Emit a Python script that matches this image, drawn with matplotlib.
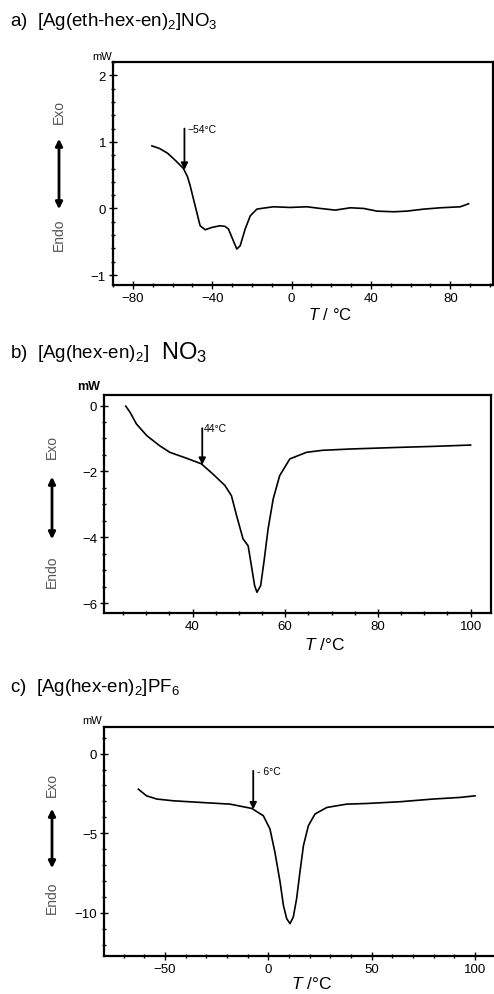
import matplotlib
matplotlib.use('Agg')
from matplotlib import pyplot as plt
from matplotlib.ticker import MultipleLocator

plt.rcParams['font.family'] = ['Liberation Sans', 'DejaVu Sans']
plt.rcParams['mathtext.fontset'] = 'custom'
plt.rcParams['mathtext.rm'] = 'Liberation Sans'
plt.rcParams['mathtext.it'] = 'Liberation Sans:italic'

# a) [Ag(eth-hex-en)2]NO3
a_T = [-70.4, -66.5, -62.5, -58.5, -54.5, -52.5, -51.1, -48.6, -46.1, -43.5, -40.2, -36.0,
       -33.5, -31.8, -29.3, -27.6, -25.9, -23.4, -20.8, -17.5, -14.1, -9.1,
       -0.7, 7.7, 14.5, 22.0, 29.6, 36.3, 43.0, 51.4, 58.2, 66.6, 75.0, 85.0, 89.2]
a_mW = [0.94, 0.9, 0.83, 0.72, 0.6, 0.48, 0.34, 0.04, -0.26, -0.32, -0.285, -0.26,
        -0.27, -0.31, -0.49, -0.61, -0.56, -0.31, -0.11, -0.01, 0.005, 0.025,
        0.015, 0.025, 0.0, -0.025, 0.01, 0.0, -0.04, -0.05, -0.04, -0.01, 0.01, 0.025, 0.07]

# b) [Ag(hex-en)2]NO3
b_T = [25.6, 26.5, 27.9, 30.1, 32.9, 35.1, 38.7, 41.9, 44.4, 47.0, 48.4, 49.5, 50.9, 52.0,
       52.7, 53.4, 53.9, 54.7, 55.4, 56.3, 57.4, 58.8, 61.0, 64.6, 68.0, 74.0, 84.7,
       92.0, 100.0]
b_mW = [-0.02, -0.2, -0.56, -0.91, -1.22, -1.42, -1.6, -1.77, -2.08, -2.43, -2.74, -3.34,
        -4.05, -4.26, -4.86, -5.47, -5.67, -5.47, -4.76, -3.75, -2.84, -2.13, -1.62, -1.42,
        -1.36, -1.32, -1.27, -1.24, -1.2]

# c) [Ag(hex-en)2]PF6
c_T = [-62.9, -58.9, -54.0, -46.0, -33.1, -18.5, -8.0, -2.4, 0.8, 3.2, 5.7, 7.3, 8.9,
       10.5, 12.1, 13.7, 15.3, 17.0, 19.4, 22.6, 28.3, 37.9, 47.6, 63.7, 79.8,
       92.7, 100.0]
c_mW = [-2.23, -2.65, -2.85, -2.96, -3.06, -3.17, -3.44, -3.9, -4.73, -6.19, -8.06, -9.52,
        -10.36, -10.67, -10.25, -9.1, -7.44, -5.77, -4.52, -3.79, -3.38, -3.17, -3.13,
        -3.02, -2.85, -2.75, -2.65]

W, H = 494, 995
fig = plt.figure(figsize=(W / 100, H / 100), dpi=100)


def fx(x):
    return x / W


def fy(y):
    return 1 - y / H


def make_axes(l, t, r, b):
    return fig.add_axes([fx(l), fy(b), fx(r) - fx(l), fy(t) - fy(b)])


def style(ax, xmaj, xmin, ymaj, ymin):
    ax.xaxis.set_major_locator(MultipleLocator(xmaj))
    ax.xaxis.set_minor_locator(MultipleLocator(xmin))
    ax.yaxis.set_major_locator(MultipleLocator(ymaj))
    ax.yaxis.set_minor_locator(MultipleLocator(ymin))
    ax.tick_params(which='both', direction='inout', labelsize=9.5, width=1, pad=2)
    ax.tick_params(which='major', length=6)
    ax.tick_params(which='minor', length=3)
    for s in ax.spines.values():
        s.set_linewidth(1.6)


def side_label(x, y_exo, y_a1, y_a2, y_endo):
    fig.text(fx(x), fy(y_exo), 'Exo', rotation=90, ha='center', va='center',
             fontsize=10, color='#555555')
    fig.text(fx(x), fy(y_endo), 'Endo', rotation=90, ha='center', va='center',
             fontsize=10, color='#555555')
    fig.patches.append(matplotlib.patches.FancyArrowPatch(
        (fx(x), fy(y_a2)), (fx(x), fy(y_a1)), transform=fig.transFigure,
        arrowstyle='<|-|>', mutation_scale=10, lw=2, color='black'))


def mark(ax, x, top, tip, label, dx):
    ax.annotate('', xy=(x, tip), xytext=(x, top),
                arrowprops=dict(arrowstyle='-|>', color='black', lw=1.3,
                                mutation_scale=10, shrinkA=0, shrinkB=0))
    ax.text(x + dx, top, label, fontsize=7.5, ha='left', va='center')


# ---- panel a
fig.text(fx(10), fy(22), 'a)  [Ag(eth-hex-en)$_2$]NO$_3$', fontsize=13.5, va='center')
ax1 = make_axes(113, 63, 493, 286)
ax1.plot(a_T, a_mW, color='black', lw=1.2)
ax1.set_xlim(-90, 101.5)
ax1.set_ylim(-1.15, 2.2)
style(ax1, 40, 10, 1, 0.2)
mark(ax1, -54, 1.2, 0.58, '\u221254\u00b0C', 1.5)
fig.text(fx(102), fy(57), 'mW', fontsize=8, ha='center', va='center')
fig.text(fx(330), fy(315), '$\\mathit{T}$ / \u00b0C', fontsize=12, ha='center', va='center')
side_label(59, 112, 137, 213, 235)

# ---- panel b
fig.text(fx(10), fy(353), 'b)  [Ag(hex-en)$_2$]', fontsize=13.5, va='center')
fig.text(fx(161), fy(353), 'NO$_3$', fontsize=17, va='center')
ax2 = make_axes(104, 396, 491, 614)
ax2.plot(b_T, b_mW, color='black', lw=1.2)
ax2.set_xlim(20.9, 104.4)
ax2.set_ylim(-6.3, 0.32)
style(ax2, 20, 5, 2, 0.5)
mark(ax2, 42.1, -0.69, -1.8, '44\u00b0C', 0.3)
fig.text(fx(89), fy(387), 'mW', fontsize=9, fontweight='bold', ha='center', va='center')
fig.text(fx(325), fy(645), '$\\mathit{T}$ /\u00b0C', fontsize=12.5, ha='center', va='center')
side_label(52, 447, 475, 543, 572)

# ---- panel c
fig.text(fx(10), fy(687), 'c)  [Ag(hex-en)$_2$]PF$_6$', fontsize=13.5, va='center')
ax3 = make_axes(104, 728, 494, 957)
ax3.plot(c_T, c_mW, color='black', lw=1.2)
ax3.set_xlim(-79.5, 109.2)
ax3.set_ylim(-12.7, 1.67)
style(ax3, 50, 10, 5, 1)
ax3.spines['right'].set_visible(False)
mark(ax3, -7.3, -1.08, -3.5, '- 6\u00b0C', 2.0)
fig.text(fx(92), fy(721), 'mW', fontsize=8, ha='center', va='center')
fig.text(fx(312), fy(984), '$\\mathit{T}$ /\u00b0C', fontsize=12.5, ha='center', va='center')
side_label(52, 785, 807, 872, 898)

fig.savefig('out.png', dpi=100)
